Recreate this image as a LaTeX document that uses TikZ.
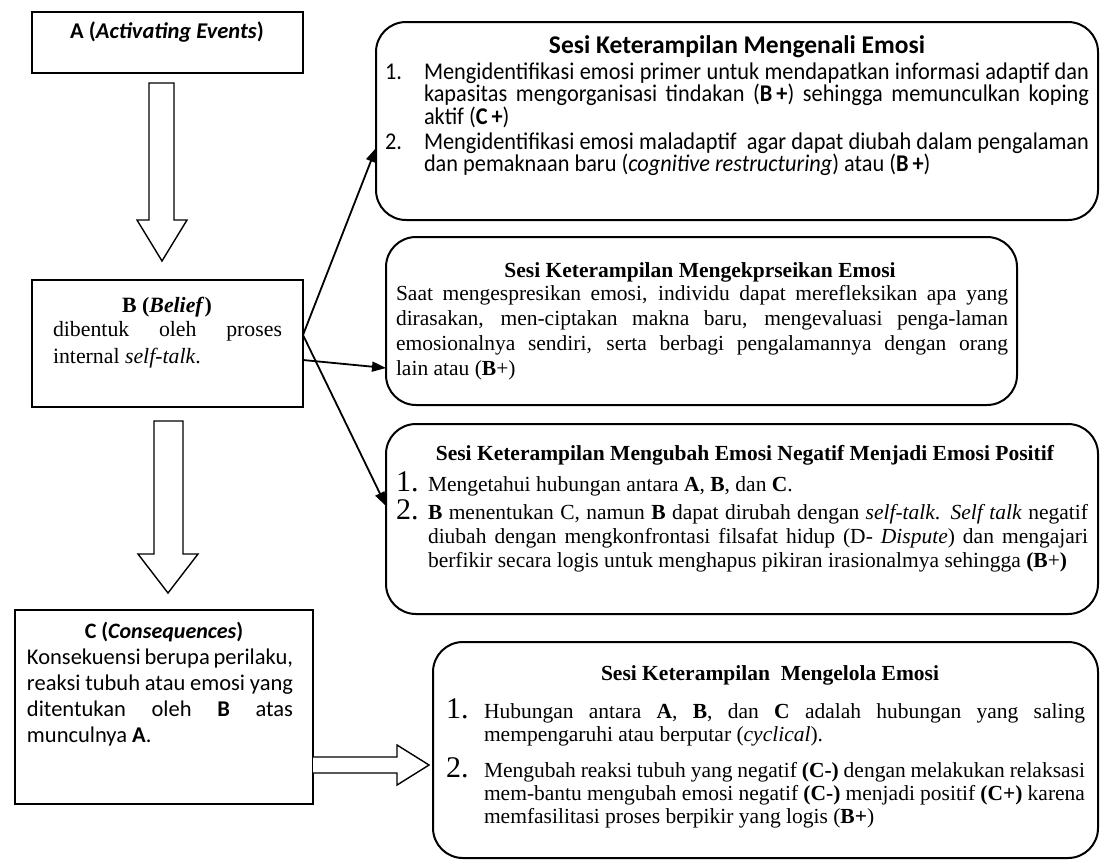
\documentclass[tikz,border=0pt]{standalone}
\usepackage{fontspec}
\setmainfont{Liberation Serif}
\newfontfamily\csans{Carlito}
\newfontfamily\cnsans[FakeStretch=0.93]{Carlito}
\usetikzlibrary{arrows.meta}
\newcommand\J[1]{\makebox[\linewidth][s]{#1}\par}
\tikzset{
  sqbox/.style={draw, line width=1.4pt, inner sep=0pt, outer sep=0pt, anchor=north west},
  rbox/.style={draw, line width=2pt, rounded corners=30pt, inner sep=0pt, outer sep=0pt, anchor=north west},
  txt/.style={inner sep=0pt, outer sep=0pt, anchor=base west},
  ttl/.style={inner sep=0pt, outer sep=0pt, anchor=base},
  conn/.style={line width=1.8pt, -{Triangle[length=14pt,width=10pt]}},
  blockarrow/.style={draw, line width=1.4pt, fill=white, line join=miter},
  serifA/.style={font=\fontsize{21.5}{25}\selectfont},
  serifB/.style={font=\fontsize{21.5}{24}\selectfont},
  serifC/.style={font=\fontsize{21.5}{23}\selectfont},
  bignum/.style={inner sep=0pt, outer sep=0pt, anchor=base west, font=\fontsize{30}{30}\selectfont},
  sansnum/.style={inner sep=0pt, outer sep=0pt, anchor=base west, font=\cnsans\fontsize{24}{22.7}\selectfont},
  sansbody/.style={font=\cnsans\fontsize{24}{22.7}\selectfont},
}
\begin{document}
\begin{tikzpicture}[x=1pt,y=-1pt]
\useasboundingbox (0,0) rectangle (1118,863);

% ---------- left column boxes ----------
\node[sqbox, minimum width=271pt, minimum height=61pt] (A) at (32,12) {};
\node[sqbox, minimum width=271pt, minimum height=127pt] (B) at (32,280) {};
\node[sqbox, minimum width=298pt, minimum height=194pt] (C) at (15,610) {};

\node[ttl, font=\csans\bfseries\fontsize{22.5}{26}\selectfont] (At) at (167,38) {A (\textit{Activating Events})};

\node[ttl, font=\fontsize{21.8}{27}\selectfont] (Bt) at (167,312) {\textbf{B (\textit{Belief})}};
\node[txt, font=\fontsize{21.8}{27}\selectfont] (Bx) at (53,336) {\parbox[t]{229pt}{\J{dibentuk oleh proses}internal \textit{self-talk}.}};

\node[ttl, font=\csans\bfseries\fontsize{22}{26}\selectfont] (Ct) at (164,638) {C (\textit{Consequences})};
\node[txt, font=\csans\fontsize{22.5}{26}\selectfont] (Cx) at (27,664) {\parbox[t]{266pt}{\J{Konsekuensi berupa perilaku,}\J{reaksi tubuh atau emosi yang}\J{ditentukan oleh \textbf{B} atas}munculnya \textbf{A}.}};

% ---------- block arrows ----------
\draw[blockarrow] (149,83) -- (174,83) -- (174,220) -- (187,220) -- (162,261) -- (137,220) -- (149,220) -- cycle;
\draw[blockarrow] (154,421) -- (183,421) -- (183,554) -- (198,554) -- (168,593) -- (138,554) -- (154,554) -- cycle;
\draw[blockarrow] (313,757) -- (397,757) -- (397,745) -- (429,765) -- (397,785) -- (397,773) -- (313,773);

% ---------- right column boxes ----------
\node[rbox, minimum width=722pt, minimum height=198pt] (S1) at (376,22) {};
\node[rbox, minimum width=631pt, minimum height=168pt] (S2) at (386,237) {};
\node[rbox, minimum width=712pt, minimum height=190pt] (S3) at (386,424) {};
\node[rbox, minimum width=665pt, minimum height=216pt] (S4) at (433,642) {};

% box 1
\node[ttl, font=\csans\bfseries\fontsize{25.5}{26}\selectfont] (S1t) at (737,53) {Sesi Keterampilan Mengenali Emosi};
\node[sansnum] (S1n1) at (385,79) {1.};
\node[txt, sansbody] (S1i1) at (424,79) {\parbox[t]{665pt}{\J{Mengidentifikasi emosi primer untuk mendapatkan informasi adaptif dan}\J{kapasitas mengorganisasi tindakan (\textbf{B\,+}) sehingga memunculkan koping}aktif (\textbf{C\,+})}};
\node[sansnum] (S1n2) at (385,149) {2.};
\node[txt, sansbody] (S1i2) at (424,149) {\parbox[t]{665pt}{\J{Mengidentifikasi emosi maladaptif \ agar dapat diubah dalam pengalaman}dan pemaknaan baru (\textit{cognitive restructuring}) atau (\textbf{B\,+})}};

% box 2
\node[ttl, serifA] (S2t) at (700,277) {\textbf{Sesi Keterampilan Mengekprseikan Emosi}};
\node[txt, serifA] (S2x) at (396,300) {\parbox[t]{612pt}{\J{Saat mengespresikan emosi, individu dapat merefleksikan apa yang}\J{dirasakan, men-ciptakan makna baru, mengevaluasi penga-laman}\J{emosionalnya sendiri, serta berbagi pengalamannya dengan orang}lain atau (\textbf{B}+)}};

% box 3
\node[ttl, serifB] (S3t) at (745,460) {\textbf{Sesi Keterampilan Mengubah Emosi Negatif Menjadi Emosi Positif}};
\node[bignum] (S3n1) at (396,491) {1.};
\node[txt, serifB] (S3i1) at (428,491) {Mengetahui hubungan antara \textbf{A}, \textbf{B}, dan \textbf{C}.};
\node[bignum] (S3n2) at (396,519) {2.};
\node[txt, serifB] (S3i2) at (428,519) {\parbox[t]{660pt}{\J{\textbf{B} menentukan C, namun \textbf{B} dapat dirubah dengan \textit{self-talk}. \textit{Self talk} negatif}\J{diubah dengan mengkonfrontasi filsafat hidup (D- \textit{Dispute}) dan mengajari}berfikir secara logis untuk menghapus pikiran irasionalmya sehingga \textbf{(B}+\textbf{)}}};

% box 4
\node[ttl, serifC] (S4t) at (770,680) {\textbf{Sesi Keterampilan \ Mengelola Emosi}};
\node[bignum] (S4n1) at (446,718) {1.};
\node[txt, serifC] (S4i1) at (484,718) {\parbox[t]{601pt}{\J{Hubungan antara \textbf{A}, \textbf{B}, dan \textbf{C} adalah hubungan yang saling}mempengaruhi atau berputar (\textit{cyclical}).}};
\node[bignum] (S4n2) at (446,777) {2.};
\node[txt, serifC] (S4i2) at (484,777) {\parbox[t]{601pt}{\J{Mengubah reaksi tubuh yang negatif \textbf{(C-)} dengan melakukan relaksasi}\J{mem-bantu mengubah emosi negatif \textbf{(C-)} menjadi positif \textbf{(C+)} karena}memfasilitasi proses berpikir yang logis (\textbf{B+})}};

% ---------- connectors ----------
\coordinate (Bo1) at ([yshift=8.5pt]B.east);
\coordinate (Bo2) at ([yshift=-16.5pt]B.east);
\draw[conn] (Bo1) -- ([yshift=-27pt]S1.west);
\draw[conn] (Bo2) -- ([yshift=-47pt]S2.west);
\draw[conn] (Bo1) -- ([yshift=13pt]S3.west);
\end{tikzpicture}
\end{document}
